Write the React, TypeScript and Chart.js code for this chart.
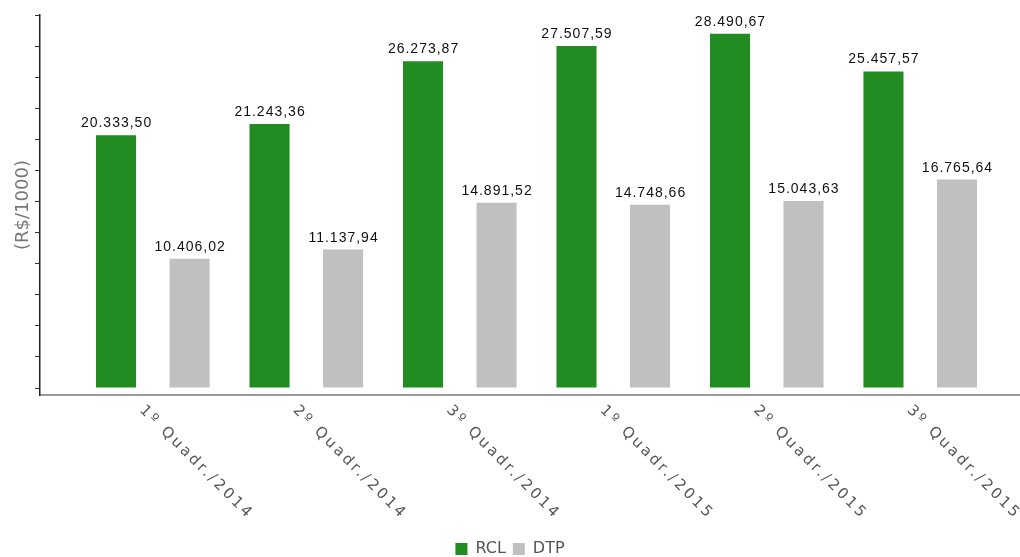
import React, { useEffect, useRef } from "react";
import { Chart, registerables } from "chart.js";

Chart.register(...registerables);

const categories = [
  "1º Quadr./2014",
  "2º Quadr./2014",
  "3º Quadr./2014",
  "1º Quadr./2015",
  "2º Quadr./2015",
  "3º Quadr./2015",
];
const rclValues = [20333.5, 21243.36, 26273.87, 27507.59, 28490.67, 25457.57];
const dtpValues = [10406.02, 11137.94, 14891.52, 14748.66, 15043.63, 16765.64];
const seriesNames = ["RCL", "DTP"];
const yTickValues = [0, 2500, 5000, 7500, 10000, 12500, 15000, 17500, 20000, 22500, 25000, 27500, 30000];
const yTitle = "(R$/1000)";

function fmt(v: number): string {
  const [i, d] = v.toFixed(2).split(".");
  return i.replace(/\B(?=(\d{3})+(?!\d))/g, ".") + "," + d;
}

const valueLabels = {
  id: "valueLabels",
  afterDatasetsDraw(chart: any) {
    const ctx = chart.ctx;
    ctx.save();
    ctx.font = "14px 'Liberation Sans', Arial, sans-serif";
    (ctx as any).letterSpacing = "1px";
    ctx.fillStyle = "#111";
    ctx.textAlign = "center";
    ctx.textBaseline = "alphabetic";
    chart.data.datasets.forEach((ds: any, di: number) => {
      const meta = chart.getDatasetMeta(di);
      meta.data.forEach((bar: any, i: number) => {
        const v = ds.data[i].y;
        ctx.fillText(fmt(v), bar.x + 0.5, bar.y - 8);
      });
    });
    ctx.restore();
  },
};

const rotatedXLabels = {
  id: "rotatedXLabels",
  afterDraw(chart: any) {
    const ctx = chart.ctx;
    const xs = chart.scales.x;
    ctx.save();
    ctx.font = "15px 'DejaVu Sans', Verdana, sans-serif";
    (ctx as any).letterSpacing = "2.85px";
    ctx.fillStyle = "#555";
    ctx.textAlign = "left";
    ctx.textBaseline = "middle";
    categories.forEach((lab, i) => {
      const px = xs.getPixelForValue(i);
      ctx.save();
      ctx.translate(px - 11, 408);
      ctx.rotate(Math.PI / 4);
      ctx.fillText(lab, 0, 0);
      ctx.restore();
    });
    ctx.restore();
  },
};

export default function App() {
  const ref = useRef<HTMLCanvasElement | null>(null);
  useEffect(() => {
    if (!ref.current) return;
    const chart = new Chart(ref.current, {
      type: "bar",
      data: {
        datasets: [
          {
            label: seriesNames[0],
            data: rclValues.map((v, i) => ({ x: i, y: v })),
            backgroundColor: "#228B22",
            borderWidth: 0,
            categoryPercentage: 0.958,
            barPercentage: 0.545,
          },
          {
            label: seriesNames[1],
            data: dtpValues.map((v, i) => ({ x: i, y: v })),
            backgroundColor: "#C0C0C0",
            borderWidth: 0,
            categoryPercentage: 0.958,
            barPercentage: 0.545,
          },
        ],
      },
      options: {
        animation: false,
        responsive: false,
        layout: { padding: { top: 15, left: 0, right: 0, bottom: -10 } },
        plugins: {
          tooltip: { enabled: false },
          legend: {
            position: "bottom",
            labels: {
              boxWidth: 12,
              boxHeight: 12,
              padding: 7,
              color: "#555",
              font: { family: "'DejaVu Sans', Verdana, sans-serif", size: 16 },
            },
          },
        },
        scales: {
          x: {
            type: "linear",
            min: -0.735,
            max: 5.65,
            offset: false,
            grid: { display: false },
            border: { display: true, color: "#9a9a9a", width: 2 },
            ticks: { display: false },
            afterBuildTicks: (scale: any) => {
              scale.ticks = categories.map((_, i) => ({ value: i }));
            },
            afterFit: (scale: any) => {
              scale.height = 139;
            },
          },
          y: {
            min: -560,
            max: 30000,
            afterBuildTicks: (scale: any) => {
              scale.ticks = yTickValues.map((v) => ({ value: v }));
            },
            grid: {
              display: true,
              drawOnChartArea: false,
              drawTicks: true,
              tickLength: 5,
              color: "#333",
              lineWidth: 1,
            },
            border: { display: true, color: "#222", width: 1.5 },
            ticks: { display: false },
            title: {
              display: true,
              text: yTitle,
              color: "#777",
              font: { family: "'DejaVu Sans', Verdana, sans-serif", size: 18 },
              padding: { top: 13, bottom: 0.4 },
            },
          },
        },
      },
      plugins: [valueLabels, rotatedXLabels],
    } as any);
    return () => chart.destroy();
  }, []);
  return (
    <div style={{ position: "absolute", left: 0, top: 0, width: 1020, height: 557, background: "#fff" }}>
      <canvas ref={ref} width={1020} height={557} />
    </div>
  );
}
